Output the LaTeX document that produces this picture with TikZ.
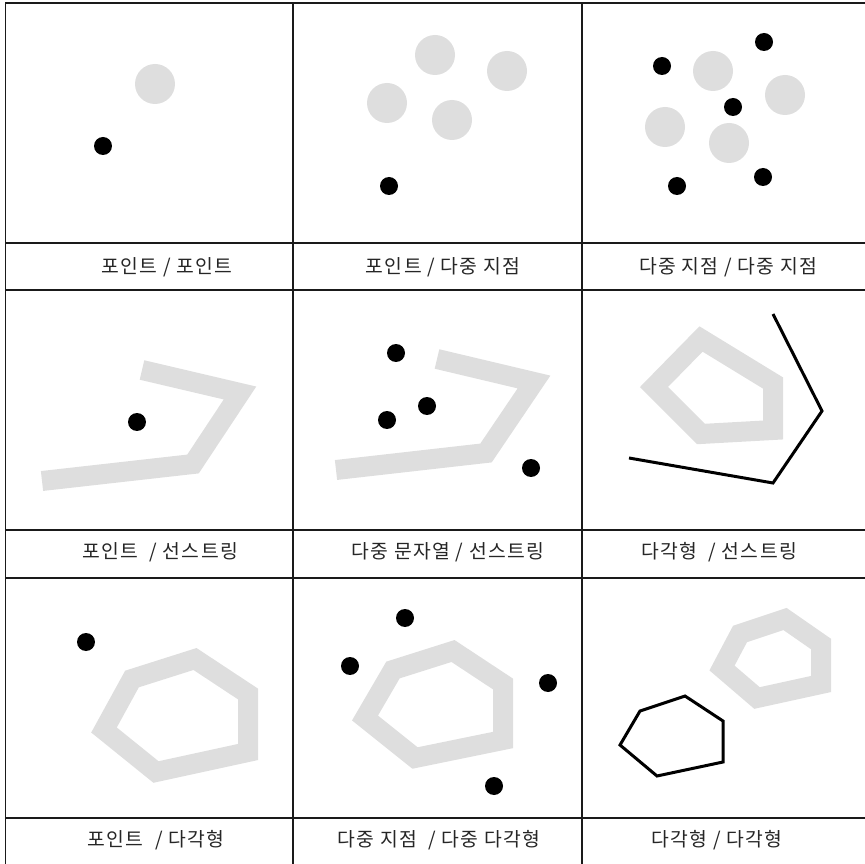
\documentclass[tikz,border=0pt]{standalone}
\usepackage{fontspec}
\newfontfamily\kr[LetterSpace=7]{Noto Sans CJK KR}
\definecolor{ink}{HTML}{000000}
\definecolor{inktext}{HTML}{262626}
\definecolor{band}{HTML}{DEDEDE}
\definecolor{rule}{HTML}{1A1A1A}
\tikzset{
  rulel/.style={draw=rule, line width=0.8pt},
  halo/.style={draw=band, line width=0.4cm, line join=miter},
  geom/.style={draw=ink, line width=0.06cm, line join=miter},
  blob/.style={fill=band},
  pt/.style={fill=ink},
  lbl/.style={font=\kr\fontsize{11}{13}\selectfont, text=inktext, inner sep=0pt},
}
\begin{document}
\begin{tikzpicture}[x=0.02cm, y=-0.02cm]
  \useasboundingbox (0,0) rectangle (865,864);
  % table rules
  \foreach \y in {3,243,290,530,578,818} \draw[rulel] (5,\y) -- (865,\y);
  \foreach \x in {5.5,293,582} \draw[rulel] (\x,3) -- (\x,864);

  % row 1
  \fill[blob] (155,84) circle[radius=0.4cm];
  \fill[pt] (103,146) circle[radius=0.18cm];
  \foreach \p in {(435,55),(507,71),(387,103),(452,120)} \fill[blob] \p circle[radius=0.4cm];
  \fill[pt] (389,186) circle[radius=0.18cm];
  \foreach \p in {(713,71),(785,95),(665,127),(729,143)} \fill[blob] \p circle[radius=0.4cm];
  \foreach \p in {(764,42),(662,66),(733,107),(763,177),(677,186)} \fill[pt] \p circle[radius=0.18cm];

  % row 2
  \draw[halo] (142,370) -- (240,393) -- (193,464) -- (42,481);
  \fill[pt] (137,422) circle[radius=0.18cm];
  \draw[halo] (437,359) -- (534,382) -- (486,453) -- (336,470);
  \foreach \p in {(396,353),(427,406),(387,420),(531,468)} \fill[pt] \p circle[radius=0.18cm];
  \draw[halo] (701,339) -- (773,383) -- (773,430) -- (701,434) -- (654,387) -- cycle;
  \draw[geom] (773,314) -- (822,411) -- (773,483) -- (629,458);

  % row 3
  \draw[halo] (195,659) -- (248,694) -- (248,752) -- (156,772) -- (104,730) -- (132,679) -- cycle;
  \fill[pt] (86,642) circle[radius=0.18cm];
  \draw[halo] (453,651) -- (503,684) -- (503,740) -- (415,758) -- (365,718) -- (393,670) -- cycle;
  \foreach \p in {(405,618),(350,666),(548,683),(494,786)} \fill[pt] \p circle[radius=0.18cm];
  \draw[halo] (785,619) -- (821,644) -- (821,684) -- (757,698) -- (722,668) -- (740,634) -- cycle;
  \draw[geom] (685,696) -- (723,721) -- (723,762) -- (657,776) -- (620,745) -- (640,711) -- cycle;

  % labels
  \node[lbl] (l1) at (167,267) {포인트 / 포인트};
  \node[lbl] (l2) at (443,267) {포인트 / 다중 지점};
  \node[lbl] (l3) at (728,267) {다중 지점 / 다중 지점};
  \node[lbl] (l4) at (160,552) {포인트~ / 선스트링};
  \node[lbl] (l5) at (448,552) {다중 문자열 / 선스트링};
  \node[lbl] (l6) at (719,552) {다각형~ / 선스트링};
  \node[lbl] (l7) at (156,840) {포인트~ / 다각형};
  \node[lbl] (l8) at (439,840) {다중 지점~ / 다중 다각형};
  \node[lbl] (l9) at (717,840) {다각형 / 다각형};
\end{tikzpicture}
\end{document}
